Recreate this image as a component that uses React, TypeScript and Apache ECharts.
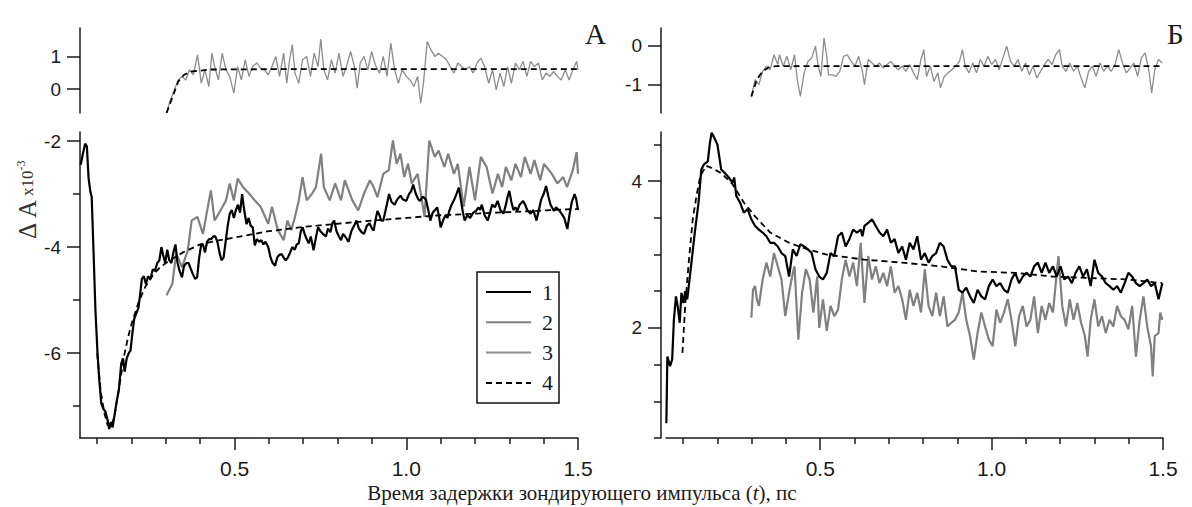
import React, { useEffect, useRef } from "react";
import * as echarts from "echarts";

// ---------- DATA (time in ps, values) ----------
// Panel A, main: series 1 (black)
const a1: number[][] = [
  [0.052,-2.45],[0.058,-2.25],[0.065,-2.05],[0.07,-2.1],[0.075,-2.7],[0.08,-2.95],[0.084,-3.05],[0.09,-4.2],[0.095,-5.2],[0.101,-6.0],
  [0.106,-6.5],[0.112,-6.95],[0.118,-7.05],[0.124,-7.1],[0.13,-7.25],[0.135,-7.43],[0.14,-7.3],[0.145,-7.4],[0.151,-7.15],[0.157,-6.9],
  [0.163,-6.7],[0.17,-6.2],[0.175,-6.1],[0.18,-6.35],[0.186,-6.1],[0.192,-6.0],[0.197,-5.95],[0.203,-5.6],[0.208,-5.35],[0.214,-5.25],
  [0.22,-5.15],[0.225,-4.9],[0.23,-4.6],[0.236,-4.55],[0.242,-4.7],[0.248,-4.55],[0.255,-4.6],[0.262,-4.42],[0.268,-4.45],[0.275,-4.3],
  [0.281,-4.25],[0.287,-4.0],[0.292,-4.15],[0.298,-4.3],[0.304,-4.05],[0.31,-4.25],[0.316,-4.3],[0.322,-4.1],[0.328,-3.95],[0.334,-4.3],
  [0.34,-4.45],[0.347,-4.57],[0.353,-4.35],[0.36,-4.3],[0.366,-4.3],[0.372,-4.4],[0.378,-4.5],[0.385,-4.6],[0.391,-4.57],[0.397,-4.2],
  [0.403,-3.95],[0.408,-3.95],[0.414,-4.1],[0.42,-3.9],[0.426,-3.85],[0.432,-3.85],[0.438,-3.8],[0.444,-3.8],[0.45,-3.9],[0.456,-4.1],
  [0.462,-4.25],[0.468,-4.2],[0.474,-3.9],[0.48,-3.6],[0.486,-3.37],[0.492,-3.3],[0.498,-3.45],[0.504,-3.3],[0.51,-3.2],[0.516,-3.35],
  [0.522,-3.0],[0.528,-3.3],[0.535,-3.57],[0.541,-3.45],[0.547,-3.6],[0.553,-3.63],[0.559,-3.97],[0.565,-3.85],[0.572,-3.9],[0.578,-3.87],
  [0.584,-3.95],[0.59,-3.9],[0.598,-4.0],[0.605,-4.2],[0.611,-4.3],[0.618,-4.35],[0.624,-4.2],[0.63,-4.15],[0.637,-4.13],[0.643,-4.2],
  [0.649,-4.25],[0.655,-4.2],[0.662,-4.1],[0.668,-4.0],[0.675,-4.05],[0.681,-3.95],[0.687,-3.93],[0.693,-3.7],[0.698,-3.63],[0.704,-3.75],
  [0.71,-3.85],[0.716,-3.93],[0.722,-3.8],[0.73,-4.06],[0.736,-3.85],[0.743,-3.63],[0.75,-3.7],[0.757,-3.75],[0.766,-3.8],[0.772,-3.65],
  [0.779,-3.72],[0.785,-3.55],[0.79,-3.5],[0.797,-3.7],[0.804,-3.8],[0.81,-3.87],[0.816,-3.75],[0.822,-3.8],[0.832,-3.9],[0.84,-3.7],
  [0.848,-3.6],[0.855,-3.5],[0.862,-3.65],[0.87,-3.72],[0.877,-3.75],[0.885,-3.6],[0.893,-3.55],[0.9,-3.65],[0.905,-3.69],[0.91,-3.5],
  [0.916,-3.32],[0.922,-3.4],[0.927,-3.5],[0.933,-3.5],[0.94,-3.3],[0.95,-3.0],[0.957,-3.15],[0.966,-3.2],[0.974,-3.1],[0.983,-3.03],
  [0.99,-3.1],[1.0,-3.13],[1.008,-3.0],[1.014,-2.95],[1.02,-2.82],[1.028,-3.0],[1.035,-3.1],[1.04,-3.13],[1.048,-3.05],[1.057,-3.1],
  [1.064,-3.3],[1.07,-3.5],[1.077,-3.35],[1.084,-3.3],[1.09,-3.25],[1.096,-3.45],[1.1,-3.63],[1.107,-3.5],[1.114,-3.4],[1.12,-3.45],
  [1.125,-3.32],[1.132,-3.2],[1.14,-3.1],[1.146,-3.0],[1.153,-2.88],[1.16,-3.15],[1.165,-3.35],[1.17,-3.5],[1.178,-3.4],[1.186,-3.45],
  [1.195,-3.35],[1.203,-3.32],[1.21,-3.25],[1.215,-3.3],[1.22,-3.2],[1.228,-3.4],[1.237,-3.5],[1.244,-3.35],[1.25,-3.2],[1.258,-3.25],
  [1.266,-3.13],[1.274,-3.3],[1.283,-3.37],[1.29,-3.2],[1.295,-3.05],[1.3,-2.94],[1.306,-3.15],[1.312,-3.3],[1.318,-3.25],[1.323,-3.32],
  [1.33,-3.2],[1.34,-3.13],[1.346,-3.2],[1.352,-3.3],[1.362,-3.37],[1.37,-3.3],[1.379,-3.5],[1.386,-3.3],[1.393,-3.1],[1.4,-3.0],
  [1.407,-2.85],[1.414,-3.05],[1.42,-3.2],[1.43,-3.32],[1.436,-3.25],[1.444,-3.3],[1.452,-3.37],[1.46,-3.45],[1.469,-3.66],[1.475,-3.4],
  [1.482,-3.15],[1.49,-3.0],[1.495,-3.1],[1.5,-3.3]
];
// Panel A, main: series 2 (grey)
const a2: number[][] = [
  [0.302,-4.91],[0.319,-4.69],[0.33,-4.12],[0.347,-4.38],[0.364,-4.06],[0.375,-3.5],[0.392,-3.43],[0.408,-3.75],[0.431,-2.93],[0.442,-3.5],
  [0.459,-3.31],[0.475,-3.12],[0.486,-2.8],[0.498,-3.12],[0.509,-2.71],[0.525,-2.87],[0.542,-2.99],[0.559,-3.12],[0.576,-3.24],[0.598,-3.56],
  [0.609,-3.24],[0.626,-3.68],[0.643,-3.87],[0.654,-3.5],[0.665,-3.68],[0.676,-3.43],[0.687,-3.12],[0.698,-2.68],[0.71,-3.12],[0.726,-2.99],
  [0.737,-2.87],[0.752,-2.24],[0.76,-2.87],[0.777,-3.12],[0.793,-2.8],[0.81,-3.12],[0.821,-2.74],[0.843,-3.12],[0.86,-3.31],[0.877,-2.99],
  [0.894,-2.74],[0.905,-2.87],[0.916,-3.06],[0.933,-2.62],[0.949,-2.55],[0.961,-1.99],[0.972,-2.43],[0.983,-2.24],[0.994,-2.68],[1.005,-2.43],
  [1.016,-2.8],[1.033,-2.62],[1.044,-3.06],[1.053,-3.43],[1.067,-1.99],[1.083,-2.3],[1.094,-2.18],[1.111,-2.49],[1.122,-2.24],[1.139,-2.62],
  [1.15,-2.43],[1.167,-3.24],[1.184,-2.49],[1.2,-3.12],[1.217,-2.3],[1.234,-2.49],[1.251,-2.99],[1.267,-2.62],[1.279,-2.87],[1.29,-2.49],
  [1.306,-2.74],[1.318,-2.43],[1.334,-2.68],[1.345,-2.3],[1.362,-2.62],[1.373,-2.36],[1.39,-2.74],[1.401,-2.43],[1.424,-2.62],[1.44,-2.8],
  [1.457,-2.68],[1.468,-2.87],[1.485,-2.55],[1.496,-2.21],[1.5,-2.62]
];
// Panel A, main: series 4 (fit, dashed)
const a4: number[][] = [
  [0.1,-6.0],[0.11,-6.7],[0.12,-7.1],[0.13,-7.35],[0.14,-7.4],[0.15,-7.2],[0.16,-6.8],[0.17,-6.4],[0.18,-6.0],[0.19,-5.7],
  [0.2,-5.45],[0.22,-5.05],[0.24,-4.75],[0.26,-4.55],[0.28,-4.4],[0.3,-4.3],[0.35,-4.1],[0.4,-3.95],[0.45,-3.88],[0.5,-3.82],
  [0.55,-3.76],[0.6,-3.7],[0.7,-3.62],[0.8,-3.56],[0.9,-3.5],[1.0,-3.45],[1.1,-3.4],[1.2,-3.37],[1.3,-3.34],[1.4,-3.31],[1.5,-3.28]
];
// Panel A, top: series 3 (thin grey) and fit 4
const a3: number[][] = [
  [0.302,-0.73],[0.313,-0.33],[0.325,-0.02],[0.336,0.28],[0.347,0.39],[0.358,0.28],[0.369,0.59],[0.38,0.44],[0.392,1.05],[0.397,0.69],
  [0.403,0.18],[0.414,0.59],[0.425,0.08],[0.434,1.1],[0.442,0.69],[0.453,0.28],[0.464,1.1],[0.475,0.59],[0.486,0.39],[0.498,-0.12],
  [0.509,0.69],[0.52,0.28],[0.531,0.9],[0.542,0.39],[0.553,0.69],[0.565,0.8],[0.576,0.64],[0.587,0.59],[0.598,0.44],[0.609,0.69],
  [0.62,1.0],[0.631,0.39],[0.643,1.1],[0.652,0.18],[0.659,0.8],[0.668,1.36],[0.676,0.49],[0.687,0.18],[0.698,0.9],[0.71,1.0],
  [0.721,0.39],[0.732,1.1],[0.743,0.69],[0.751,1.53],[0.76,0.59],[0.771,0.28],[0.782,0.9],[0.793,0.49],[0.804,1.1],[0.816,0.39],
  [0.827,0.74],[0.838,1.15],[0.849,0.69],[0.857,0.03],[0.866,0.8],[0.877,1.0],[0.888,0.59],[0.899,1.15],[0.91,0.74],[0.922,0.49],
  [0.933,1.0],[0.944,0.39],[0.955,1.41],[0.966,0.59],[0.977,0.18],[0.988,0.59],[1.0,0.39],[1.011,0.28],[1.022,0.08],[1.033,0.39],
  [1.042,-0.43],[1.05,0.18],[1.061,1.46],[1.072,1.2],[1.083,1.0],[1.094,1.1],[1.106,1.0],[1.117,0.9],[1.128,0.69],[1.139,0.49],
  [1.15,0.8],[1.161,0.69],[1.173,0.59],[1.184,0.69],[1.195,0.49],[1.206,0.8],[1.217,0.95],[1.228,0.69],[1.24,0.18],[1.251,0.59],
  [1.262,-0.02],[1.273,0.49],[1.284,0.08],[1.295,0.69],[1.306,0.18],[1.318,0.8],[1.329,0.59],[1.34,0.85],[1.351,0.39],[1.362,0.85],
  [1.373,0.69],[1.385,0.8],[1.396,0.28],[1.407,0.49],[1.418,0.39],[1.429,0.54],[1.44,0.39],[1.451,0.28],[1.463,0.59],[1.474,0.28],
  [1.485,0.59],[1.496,0.85],[1.5,0.59]
];
const a4top: number[][] = [
  [0.302,-0.73],[0.32,-0.22],[0.336,0.23],[0.353,0.44],[0.375,0.54],[0.43,0.6],[0.6,0.61],[1.0,0.61],[1.5,0.61]
];

// Panel Б, main: series 1 (black)
const b1: number[][] = [
  [0.051,0.7],[0.054,1.61],[0.062,1.48],[0.068,1.57],[0.073,2.11],[0.079,2.43],[0.084,2.3],[0.09,2.07],[0.095,2.48],[0.101,2.34],
  [0.106,2.5],[0.112,2.39],[0.123,2.84],[0.134,3.3],[0.145,3.71],[0.153,4.16],[0.161,4.23],[0.172,4.27],[0.178,4.52],[0.183,4.66],
  [0.189,4.61],[0.2,4.5],[0.211,4.16],[0.222,4.11],[0.233,4.05],[0.244,3.98],[0.249,4.05],[0.255,3.8],[0.266,3.71],[0.277,3.57],
  [0.288,3.62],[0.299,3.48],[0.31,3.39],[0.321,3.34],[0.332,3.3],[0.343,3.25],[0.354,3.16],[0.365,3.16],[0.376,3.11],[0.387,3.02],
  [0.398,2.98],[0.409,2.7],[0.42,3.07],[0.431,2.98],[0.442,3.14],[0.453,3.11],[0.464,3.07],[0.475,3.02],[0.486,2.8],[0.497,2.7],
  [0.508,2.66],[0.519,2.75],[0.53,3.02],[0.541,2.98],[0.552,3.25],[0.563,3.3],[0.574,3.11],[0.585,3.21],[0.596,3.34],[0.607,3.3],
  [0.618,3.34],[0.623,3.25],[0.629,3.39],[0.64,3.43],[0.651,3.48],[0.662,3.39],[0.673,3.3],[0.684,3.25],[0.695,3.34],[0.706,3.16],
  [0.717,3.21],[0.728,3.02],[0.739,3.11],[0.75,2.93],[0.761,3.16],[0.772,3.07],[0.783,3.25],[0.794,2.93],[0.805,3.02],[0.816,2.89],
  [0.827,2.98],[0.838,3.02],[0.849,3.16],[0.86,3.11],[0.871,2.93],[0.882,2.84],[0.893,2.84],[0.904,2.52],[0.915,2.48],[0.926,2.55],
  [0.937,2.43],[0.948,2.34],[0.959,2.52],[0.97,2.43],[0.981,2.39],[0.992,2.57],[1.003,2.66],[1.014,2.57],[1.025,2.61],[1.036,2.52],
  [1.047,2.48],[1.058,2.66],[1.069,2.75],[1.08,2.61],[1.091,2.7],[1.102,2.75],[1.113,2.7],[1.124,2.84],[1.135,2.89],[1.146,2.75],
  [1.157,2.89],[1.168,2.75],[1.179,2.84],[1.19,2.7],[1.201,2.84],[1.212,2.66],[1.223,2.7],[1.234,2.61],[1.245,2.75],[1.256,2.84],
  [1.267,2.7],[1.278,2.8],[1.289,2.57],[1.3,2.93],[1.311,2.75],[1.322,2.7],[1.333,2.61],[1.344,2.57],[1.355,2.52],[1.366,2.57],
  [1.377,2.48],[1.388,2.61],[1.399,2.75],[1.41,2.7],[1.421,2.61],[1.432,2.57],[1.443,2.61],[1.454,2.66],[1.465,2.57],[1.476,2.61],
  [1.487,2.39],[1.498,2.61]
];
// Panel Б, main: series 2 (grey)
const b2: number[][] = [
  [0.299,2.14],[0.304,2.52],[0.31,2.57],[0.315,2.39],[0.321,2.3],[0.332,2.66],[0.343,2.89],[0.354,2.7],[0.365,3.02],[0.376,2.84],
  [0.387,2.66],[0.398,2.16],[0.409,2.48],[0.42,2.75],[0.425,2.84],[0.436,1.84],[0.447,2.48],[0.458,2.8],[0.469,2.66],[0.48,2.21],
  [0.491,2.7],[0.497,2.0],[0.508,2.39],[0.519,1.96],[0.53,2.3],[0.541,2.16],[0.552,2.25],[0.563,2.66],[0.574,2.93],[0.585,2.7],
  [0.596,2.89],[0.607,2.57],[0.618,3.16],[0.629,2.34],[0.64,2.98],[0.651,2.66],[0.662,2.84],[0.673,2.61],[0.684,2.75],[0.695,2.57],
  [0.706,2.84],[0.717,2.48],[0.728,2.57],[0.739,2.39],[0.75,2.11],[0.761,2.52],[0.772,2.3],[0.783,2.48],[0.794,2.21],[0.805,2.8],
  [0.816,2.3],[0.827,2.16],[0.838,2.48],[0.849,2.16],[0.86,2.43],[0.871,2.02],[0.882,2.07],[0.893,2.11],[0.904,2.21],[0.915,2.48],
  [0.926,2.11],[0.937,1.89],[0.948,1.57],[0.959,1.93],[0.97,2.21],[0.981,2.02],[0.992,1.84],[1.003,1.75],[1.014,2.25],[1.025,2.07],
  [1.036,2.21],[1.047,2.39],[1.058,2.11],[1.069,1.75],[1.08,2.16],[1.091,2.3],[1.102,2.02],[1.113,2.11],[1.124,2.43],[1.135,1.93],
  [1.146,2.3],[1.157,2.11],[1.168,2.34],[1.179,2.21],[1.19,2.75],[1.195,2.98],[1.206,2.3],[1.217,2.02],[1.228,2.39],[1.239,2.11],
  [1.25,2.34],[1.261,2.07],[1.272,1.89],[1.28,1.61],[1.289,2.11],[1.3,2.39],[1.311,2.02],[1.322,2.16],[1.333,1.93],[1.344,2.11],
  [1.355,2.02],[1.366,2.3],[1.377,2.16],[1.388,2.11],[1.399,1.98],[1.41,2.3],[1.421,1.61],[1.432,2.11],[1.443,2.43],[1.454,2.02],
  [1.465,1.75],[1.47,1.34],[1.476,1.89],[1.487,1.93],[1.492,2.21],[1.498,2.11]
];
// Panel Б, main: series 4 (fit, dashed)
const b4: number[][] = [
  [0.098,1.66],[0.106,2.3],[0.117,2.93],[0.128,3.48],[0.139,3.8],[0.15,4.07],[0.167,4.21],[0.183,4.18],[0.211,4.11],[0.244,3.96],
  [0.277,3.71],[0.31,3.52],[0.354,3.3],[0.409,3.16],[0.464,3.07],[0.519,3.0],[0.629,2.93],[0.739,2.89],[0.849,2.84],[0.959,2.77],
  [1.069,2.75],[1.179,2.7],[1.289,2.68],[1.399,2.66],[1.498,2.61]
];
// Panel Б, top: series 3 (thin grey) and fit 4
const b3: number[][] = [
  [0.299,-1.3],[0.31,-0.87],[0.321,-1.0],[0.332,-0.66],[0.343,-0.53],[0.354,-0.62],[0.365,-0.24],[0.376,-0.49],[0.381,-0.24],[0.392,-0.53],
  [0.403,-0.28],[0.414,-0.62],[0.425,-0.24],[0.433,-0.87],[0.442,-1.3],[0.453,-0.7],[0.464,-0.41],[0.475,-0.32],[0.486,-0.02],[0.494,-0.53],
  [0.502,-0.79],[0.511,0.19],[0.519,-0.28],[0.524,-0.75],[0.535,-0.75],[0.546,-0.79],[0.557,-0.66],[0.568,-0.28],[0.579,-0.24],[0.59,-0.41],
  [0.601,-0.53],[0.612,-0.28],[0.623,-0.66],[0.629,-1.0],[0.64,-0.36],[0.651,-0.45],[0.662,-0.53],[0.673,-0.45],[0.684,-0.58],[0.695,-0.49],
  [0.706,-0.41],[0.717,-0.53],[0.728,-0.62],[0.739,-0.53],[0.75,-0.66],[0.761,-0.49],[0.772,-0.7],[0.783,-0.87],[0.794,-0.36],[0.802,-0.11],
  [0.81,-0.79],[0.821,-0.53],[0.832,-0.92],[0.843,-0.7],[0.851,-1.08],[0.862,-0.79],[0.873,-0.7],[0.884,-0.62],[0.895,-0.53],[0.906,-0.41],
  [0.915,-0.11],[0.923,-0.53],[0.934,-0.7],[0.945,-0.45],[0.956,-0.7],[0.967,-0.36],[0.978,-0.53],[0.989,-0.28],[1.0,-0.49],[1.011,-0.36],
  [1.022,-0.62],[1.033,-0.32],[1.044,-0.02],[1.055,-0.41],[1.066,-0.53],[1.077,-0.36],[1.088,-0.66],[1.099,-0.45],[1.11,-0.75],[1.121,-0.53],
  [1.132,-0.83],[1.143,-0.66],[1.154,-0.49],[1.165,-0.36],[1.176,-0.49],[1.187,-0.24],[1.198,-0.11],[1.206,-0.53],[1.217,-0.66],[1.228,-0.45],
  [1.239,-0.66],[1.25,-0.53],[1.261,-0.83],[1.272,-1.08],[1.283,-0.66],[1.294,-0.53],[1.305,-0.79],[1.316,-0.45],[1.327,-0.66],[1.338,-0.53],
  [1.349,-0.66],[1.36,-0.49],[1.371,-0.11],[1.382,-0.45],[1.393,-0.7],[1.404,-0.58],[1.415,-0.45],[1.426,-0.79],[1.437,-0.32],[1.448,-0.19],
  [1.459,-0.66],[1.467,-1.21],[1.476,-0.62],[1.487,-0.36],[1.498,-0.45]
];
const b4top: number[][] = [
  [0.299,-1.3],[0.315,-0.87],[0.332,-0.66],[0.35,-0.56],[0.37,-0.53],[0.6,-0.53],[1.0,-0.53],[1.5,-0.53]
];

// ticks / labels
const xMajor = [0.5, 1.0, 1.5];
const xMinor = [0.1, 0.2, 0.3, 0.4, 0.6, 0.7, 0.8, 0.9, 1.1, 1.2, 1.3, 1.4];
const aTopTicks = [0, 1];
const aMainMajor = [-6, -4, -2];
const aMainMinor = [-7, -5, -3];
const bTopTicks = [-1, 0];
const bMainMajor = [2, 4];
const bMainMinor = [0.5, 1, 1.5, 2.5, 3, 3.5, 4.5];
const legendNames = ["1", "2", "3", "4"];
const xTitle = "Время задержки зондирующего импульса ({i|t}), пс";

const SANS = '"Liberation Sans", Arial, sans-serif';
const SERIF = '"Liberation Serif", "Times New Roman", serif';
const INK = "#1a1a1a";

function xAxisMajor(grid: number, show: boolean) {
  return {
    type: "value", gridIndex: grid, min: 0.05, max: 1.5, position: "bottom",
    show,
    axisLine: { show: true, lineStyle: { color: INK, width: 1.5 } },
    axisTick: { show: true, length: 12, customValues: xMajor, lineStyle: { color: INK, width: 1.5 } },
    axisLabel: { show: true, customValues: xMajor, margin: 20, fontSize: 21, fontFamily: SANS, color: INK,
      formatter: (v: number) => v.toFixed(1) },
    splitLine: { show: false },
  };
}
function xAxisMinor(grid: number) {
  return {
    type: "value", gridIndex: grid, min: 0.05, max: 1.5, position: "bottom",
    axisLine: { show: false },
    axisTick: { show: true, length: 6, customValues: xMinor, lineStyle: { color: INK, width: 1.5 } },
    axisLabel: { show: false },
    splitLine: { show: false },
  };
}
function yAxisMajor(grid: number, min: number, max: number, vals: number[], offset: number, fs: number) {
  return {
    type: "value", gridIndex: grid, min, max, offset, position: "left",
    axisLine: { show: true, lineStyle: { color: INK, width: 1.5 } },
    axisTick: { show: true, length: 13, customValues: vals, lineStyle: { color: INK, width: 1.5 } },
    axisLabel: { show: true, customValues: vals, margin: 19, fontSize: fs, fontFamily: SANS, color: INK },
    splitLine: { show: false },
  };
}
function yAxisMinor(grid: number, min: number, max: number, vals: number[], offset: number) {
  return {
    type: "value", gridIndex: grid, min, max, offset, position: "left",
    axisLine: { show: false },
    axisTick: { show: true, length: 7, customValues: vals, lineStyle: { color: INK, width: 1.5 } },
    axisLabel: { show: false },
    splitLine: { show: false },
  };
}

function line(name: string, data: number[][], xi: number, yi: number, color: string, width: number, dashed = false, z = 2) {
  return {
    type: "line", name, data, xAxisIndex: xi, yAxisIndex: yi,
    symbol: "none", showSymbol: false, z,
    lineStyle: { color, width, type: dashed ? [6, 4] : "solid" },
    itemStyle: { color },
    silent: true,
  };
}

export default function App() {
  const ref = useRef<HTMLDivElement>(null);
  useEffect(() => {
    if (!ref.current) return;
    const chart = echarts.init(ref.current, undefined, { renderer: "svg" });
    const option: any = {
      animation: false,
      backgroundColor: "#ffffff",
      grid: [
        { left: 80, top: 28, width: 498, height: 85 },
        { left: 80, top: 132, width: 498, height: 306 },
        { left: 666, top: 28, width: 497, height: 85 },
        { left: 666, top: 132, width: 497, height: 306 },
      ],
      xAxis: [
        xAxisMajor(0, false),
        xAxisMajor(1, true),
        xAxisMinor(1),
        xAxisMajor(2, false),
        xAxisMajor(3, true),
        xAxisMinor(3),
      ],
      yAxis: [
        yAxisMajor(0, -0.73, 1.87, aTopTicks, 0, 19),
        yAxisMajor(1, -7.6, -1.83, aMainMajor, 0, 19),
        yAxisMinor(1, -7.6, -1.83, aMainMinor, 0),
        yAxisMajor(2, -1.72, 0.44, bTopTicks, 5, 19),
        yAxisMajor(3, 0.5, 4.67, bMainMajor, 5, 19),
        yAxisMinor(3, 0.5, 4.67, bMainMinor, 5),
      ],
      legend: {
        data: legendNames,
        orient: "vertical",
        left: 477, top: 272,
        width: 80,
        padding: [9, 6, 9, 8],
        itemWidth: 45, itemHeight: 20, itemGap: 8.3,
        borderColor: "#111", borderWidth: 1.5,
        itemStyle: { opacity: 0, borderWidth: 0 },
        textStyle: { fontFamily: SERIF, fontSize: 22, color: INK, padding: [0, 0, 0, 6] },
        selectedMode: false,
      },
      series: [
        line("3", a3, 0, 0, "#8c8c8c", 1.3),
        line("4", a4top, 0, 0, "#000", 1.8, true, 3),
        line("2", a2, 1, 1, "#808080", 2.2),
        line("1", a1, 1, 1, "#000", 2.2, false, 3),
        line("4", a4, 1, 1, "#000", 1.8, true, 4),
        line("3", b3, 3, 3, "#8c8c8c", 1.3),
        line("4", b4top, 3, 3, "#000", 1.8, true, 3),
        line("2", b2, 4, 4, "#808080", 2.2),
        line("1", b1, 4, 4, "#000", 2.2, false, 3),
        line("4", b4, 4, 4, "#000", 1.8, true, 4),
      ],
      graphic: [
        { type: "text", left: 585, top: 19, style: { text: "А", font: `29px ${SERIF}`, fill: INK } },
        { type: "text", left: 1167, top: 19, style: { text: "Б", font: `29px ${SERIF}`, fill: INK } },
        {
          type: "text", x: 582, y: 493,
          style: {
            text: xTitle, fill: INK, font: `21px ${SERIF}`, align: "center", verticalAlign: "middle",
            rich: { i: { fontStyle: "italic", fontFamily: SERIF, fontSize: 21, fill: INK } },
          },
        },
        {
          type: "text", x: 27, y: 200, rotation: Math.PI / 2,
          style: {
            text: "{a|Δ A} {b|x10}{c|-3}", fill: "#333", align: "center", verticalAlign: "middle",
            rich: {
              a: { fontFamily: SERIF, fontSize: 25, fill: "#333" },
              b: { fontFamily: SERIF, fontSize: 17, fill: "#333" },
              c: { fontFamily: SERIF, fontSize: 12, fill: "#333", verticalAlign: "top" },
            },
          },
        },
      ],
    };
    chart.setOption(option);
    return () => chart.dispose();
  }, []);
  return (
    <div
      ref={ref}
      style={{ position: "absolute", left: 0, top: 0, width: 1192, height: 507, background: "#fff" }}
    />
  );
}
